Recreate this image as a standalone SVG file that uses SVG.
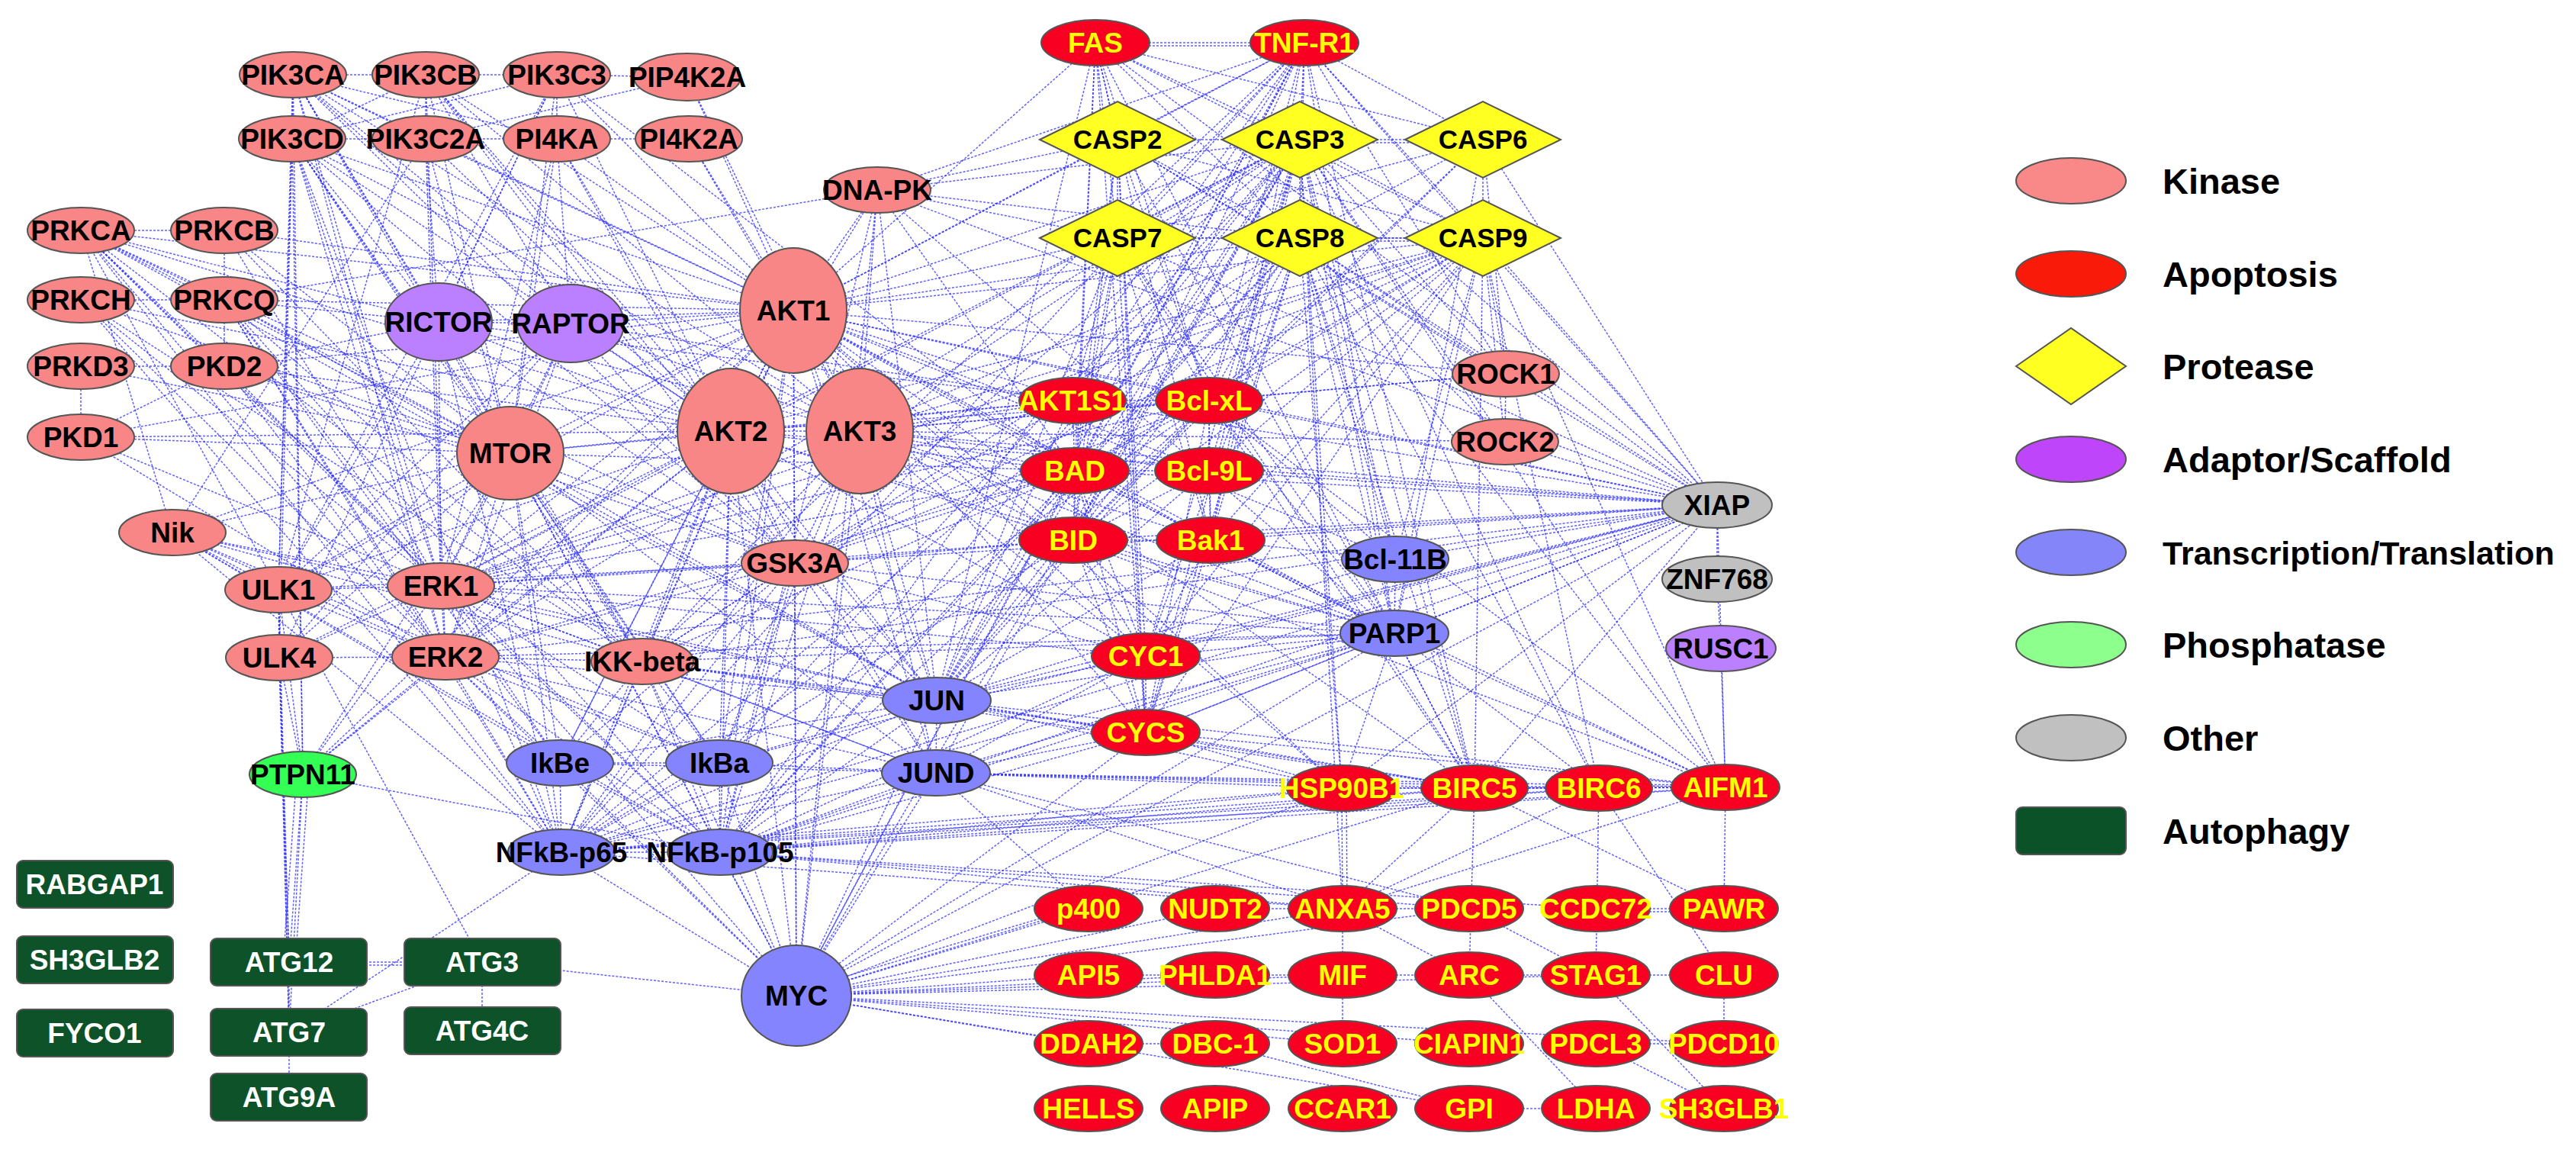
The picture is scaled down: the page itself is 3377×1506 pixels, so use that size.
<svg xmlns="http://www.w3.org/2000/svg" width="3377" height="1506" viewBox="0 0 3377 1506">
<style>
#edges path{fill:none;stroke:#2b2bff;stroke-width:1.5;stroke-dasharray:3 2;stroke-opacity:.75}
ellipse,polygon,rect{stroke:#555;stroke-width:2}
text{font-family:"Liberation Sans",Arial,sans-serif;font-weight:bold;text-anchor:middle;font-size:37px;fill:#000}
text.c{font-size:35px}
.k{fill:#F98686}.ap{fill:#F80022}.pr{fill:#FFFF22}.ad{fill:#BB80FF}.tr{fill:#8484FF}.ph{fill:#33FF55}.ot{fill:#C0C0C0}.au{fill:#0D5229}
text.y{fill:#FFFF00}text.w{fill:#fff}
text.lg{font-size:47px;text-anchor:start}
text.lg2{font-size:43px;text-anchor:start}
</style>
<g id="edges">
<path d="M384 98L558 98"/><path d="M384 98L383 182"/><path d="M384 98L558 182"/><path d="M384 98L730 182"/><path d="M384 98L575 422"/><path d="M384 98L748 424"/><path d="M384 98L669 594"/><path d="M384 98L1040 407"/><path d="M384 98L958 565"/><path d="M384 98L1127 565"/><path d="M384 98L578 768"/><path d="M384 98L584 861"/><path d="M384 98L1042 738"/><path d="M384 98L397 1015"/><path d="M384 98L365 773"/><path d="M384 98L842 867"/>
<path d="M558 98L730 98"/><path d="M558 98L558 182"/><path d="M558 98L383 182"/><path d="M558 98L1040 407"/><path d="M558 98L958 565"/><path d="M558 98L1127 565"/><path d="M558 98L669 594"/><path d="M558 98L748 424"/><path d="M558 98L584 861"/><path d="M558 98L1042 738"/><path d="M558 98L1228 918"/><path d="M558 98L365 773"/>
<path d="M730 98L901 101"/><path d="M730 98L383 182"/><path d="M730 98L730 182"/><path d="M730 98L669 594"/><path d="M730 98L1040 407"/><path d="M730 98L365 773"/><path d="M730 98L575 422"/><path d="M730 98L958 565"/><path d="M730 98L366 862"/><path d="M730 98L1409 617"/>
<path d="M901 101L558 182"/><path d="M901 101L1040 407"/><path d="M901 101L1127 565"/>
<path d="M383 182L558 182"/><path d="M383 182L669 594"/><path d="M383 182L1040 407"/><path d="M383 182L958 565"/><path d="M383 182L1127 565"/><path d="M383 182L397 1015"/><path d="M383 182L575 422"/><path d="M383 182L578 768"/><path d="M383 182L584 861"/><path d="M383 182L842 867"/><path d="M383 182L736 1117"/><path d="M383 182L1042 738"/><path d="M383 182L365 773"/><path d="M383 182L366 862"/><path d="M383 182L943 1000"/>
<path d="M558 182L730 182"/><path d="M558 182L1040 407"/><path d="M558 182L669 594"/><path d="M558 182L958 565"/><path d="M558 182L575 422"/><path d="M558 182L578 768"/><path d="M558 182L226 698"/>
<path d="M730 182L903 182"/><path d="M730 182L1040 407"/><path d="M730 182L669 594"/><path d="M730 182L748 424"/><path d="M730 182L578 768"/><path d="M730 182L958 565"/><path d="M730 182L1042 738"/>
<path d="M903 182L1040 407"/><path d="M903 182L1127 565"/>
<path d="M1150 249L1040 407"/><path d="M1150 249L958 565"/><path d="M1150 249L1127 565"/><path d="M1150 249L294 393"/><path d="M1150 249L1465 183"/><path d="M1150 249L1704 183"/><path d="M1150 249L1465 312"/><path d="M1150 249L1704 312"/><path d="M1150 249L1228 918"/><path d="M1150 249L1044 1305"/><path d="M1150 249L1409 617"/><path d="M1150 249L1828 830"/><path d="M1150 249L2251 662"/><path d="M1150 249L1710 56"/><path d="M1150 249L944 1117"/>
<path d="M106 302L294 302"/><path d="M106 302L294 393"/><path d="M106 302L294 480"/><path d="M106 302L669 594"/><path d="M106 302L1040 407"/><path d="M106 302L578 768"/><path d="M106 302L584 861"/><path d="M106 302L575 422"/><path d="M106 302L842 867"/><path d="M106 302L736 1117"/><path d="M106 302L365 773"/><path d="M106 302L1228 918"/><path d="M106 302L958 565"/><path d="M106 302L1042 738"/><path d="M106 302L944 1117"/><path d="M106 302L226 698"/>
<path d="M294 302L578 768"/><path d="M294 302L669 594"/><path d="M294 302L1040 407"/><path d="M294 302L842 867"/><path d="M294 302L294 480"/>
<path d="M106 393L294 393"/><path d="M106 393L578 768"/><path d="M106 393L584 861"/><path d="M106 393L842 867"/><path d="M106 393L736 1117"/><path d="M106 393L669 594"/><path d="M106 393L958 565"/>
<path d="M294 393L578 768"/><path d="M294 393L842 867"/><path d="M294 393L736 1117"/><path d="M294 393L944 1117"/><path d="M294 393L1040 407"/><path d="M294 393L669 594"/><path d="M294 393L584 861"/><path d="M294 393L1228 918"/><path d="M294 393L575 422"/><path d="M294 393L734 1000"/>
<path d="M106 480L294 480"/><path d="M106 480L106 573"/><path d="M106 480L669 594"/>
<path d="M294 480L106 573"/><path d="M294 480L575 422"/><path d="M294 480L958 565"/><path d="M294 480L578 768"/><path d="M294 480L584 861"/><path d="M294 480L669 594"/><path d="M294 480L1040 407"/><path d="M294 480L1042 738"/>
<path d="M106 573L669 594"/><path d="M106 573L578 768"/><path d="M106 573L1040 407"/><path d="M106 573L958 565"/><path d="M106 573L584 861"/>
<path d="M575 422L748 424"/><path d="M575 422L669 594"/><path d="M575 422L1040 407"/><path d="M575 422L958 565"/><path d="M575 422L1127 565"/><path d="M575 422L578 768"/><path d="M575 422L1042 738"/><path d="M575 422L365 773"/><path d="M575 422L736 1117"/><path d="M575 422L1406 525"/>
<path d="M748 424L669 594"/><path d="M748 424L1040 407"/><path d="M748 424L958 565"/><path d="M748 424L1127 565"/><path d="M748 424L365 773"/><path d="M748 424L578 768"/><path d="M748 424L584 861"/><path d="M748 424L1406 525"/><path d="M748 424L1042 738"/><path d="M748 424L366 862"/>
<path d="M1040 407L958 565"/><path d="M1040 407L1127 565"/><path d="M1040 407L669 594"/><path d="M1040 407L1042 738"/><path d="M1040 407L1409 617"/><path d="M1040 407L1406 525"/><path d="M1040 407L1585 525"/><path d="M1040 407L1585 617"/><path d="M1040 407L1944 312"/><path d="M1040 407L1704 183"/><path d="M1040 407L1465 312"/><path d="M1040 407L1704 312"/><path d="M1040 407L1465 183"/><path d="M1040 407L1710 56"/><path d="M1040 407L1436 56"/><path d="M1040 407L2251 662"/><path d="M1040 407L1974 490"/><path d="M1040 407L1044 1305"/><path d="M1040 407L1228 918"/><path d="M1040 407L1227 1013"/><path d="M1040 407L842 867"/><path d="M1040 407L736 1117"/><path d="M1040 407L944 1117"/><path d="M1040 407L943 1000"/><path d="M1040 407L734 1000"/><path d="M1040 407L578 768"/><path d="M1040 407L584 861"/><path d="M1040 407L365 773"/><path d="M1040 407L1828 830"/><path d="M1040 407L1502 860"/><path d="M1040 407L1407 708"/><path d="M1040 407L1587 708"/><path d="M1040 407L1759 1033"/><path d="M1040 407L1933 1033"/><path d="M1040 407L226 698"/><path d="M1040 407L397 1015"/><path d="M1040 407L1502 960"/><path d="M1040 407L1829 733"/>
<path d="M958 565L1127 565"/><path d="M958 565L669 594"/><path d="M958 565L1042 738"/><path d="M958 565L1409 617"/><path d="M958 565L1406 525"/><path d="M958 565L842 867"/><path d="M958 565L736 1117"/><path d="M958 565L944 1117"/><path d="M958 565L578 768"/><path d="M958 565L584 861"/><path d="M958 565L1228 918"/><path d="M958 565L1227 1013"/><path d="M958 565L1044 1305"/><path d="M958 565L1944 312"/><path d="M958 565L1704 183"/><path d="M958 565L2251 662"/><path d="M958 565L365 773"/><path d="M958 565L734 1000"/><path d="M958 565L943 1000"/><path d="M958 565L1585 525"/><path d="M958 565L1828 830"/><path d="M958 565L1407 708"/><path d="M958 565L1502 860"/><path d="M958 565L366 862"/>
<path d="M1127 565L1042 738"/><path d="M1127 565L1409 617"/><path d="M1127 565L1406 525"/><path d="M1127 565L1585 525"/><path d="M1127 565L1044 1305"/><path d="M1127 565L1228 918"/><path d="M1127 565L1227 1013"/><path d="M1127 565L944 1117"/><path d="M1127 565L736 1117"/><path d="M1127 565L1944 312"/><path d="M1127 565L1704 183"/><path d="M1127 565L1704 312"/><path d="M1127 565L2251 662"/><path d="M1127 565L1973 579"/><path d="M1127 565L1974 490"/><path d="M1127 565L1502 860"/><path d="M1127 565L1407 708"/><path d="M1127 565L943 1000"/><path d="M1127 565L1828 830"/><path d="M1127 565L1587 708"/><path d="M1127 565L1585 617"/><path d="M1127 565L842 867"/><path d="M1127 565L578 768"/>
<path d="M669 594L365 773"/><path d="M669 594L366 862"/><path d="M669 594L578 768"/><path d="M669 594L584 861"/><path d="M669 594L1406 525"/><path d="M669 594L226 698"/><path d="M669 594L1042 738"/><path d="M669 594L842 867"/><path d="M669 594L1228 918"/><path d="M669 594L1044 1305"/><path d="M669 594L734 1000"/><path d="M669 594L943 1000"/><path d="M669 594L736 1117"/><path d="M669 594L944 1117"/><path d="M669 594L397 1015"/><path d="M669 594L1409 617"/><path d="M669 594L1227 1013"/>
<path d="M226 698L842 867"/><path d="M226 698L578 768"/><path d="M226 698L365 773"/><path d="M226 698L736 1117"/><path d="M226 698L944 1117"/><path d="M226 698L943 1000"/><path d="M226 698L1228 918"/><path d="M226 698L584 861"/><path d="M226 698L734 1000"/>
<path d="M365 773L366 862"/><path d="M365 773L578 768"/><path d="M365 773L632 1261"/><path d="M365 773L397 1015"/><path d="M365 773L379 1261"/><path d="M365 773L379 1353"/><path d="M365 773L584 861"/><path d="M365 773L1042 738"/>
<path d="M366 862L397 1015"/><path d="M366 862L584 861"/><path d="M366 862L379 1261"/><path d="M366 862L379 1353"/>
<path d="M578 768L584 861"/><path d="M578 768L842 867"/><path d="M578 768L1228 918"/><path d="M578 768L1227 1013"/><path d="M578 768L1044 1305"/><path d="M578 768L1042 738"/><path d="M578 768L736 1117"/><path d="M578 768L944 1117"/><path d="M578 768L943 1000"/><path d="M578 768L734 1000"/><path d="M578 768L1409 617"/><path d="M578 768L1704 183"/><path d="M578 768L1944 312"/><path d="M578 768L1828 830"/><path d="M578 768L1406 525"/><path d="M578 768L1585 525"/><path d="M578 768L1502 860"/><path d="M578 768L1407 708"/><path d="M578 768L366 862"/><path d="M578 768L397 1015"/>
<path d="M584 861L842 867"/><path d="M584 861L1228 918"/><path d="M584 861L1044 1305"/><path d="M584 861L734 1000"/><path d="M584 861L943 1000"/><path d="M584 861L736 1117"/><path d="M584 861L944 1117"/><path d="M584 861L1042 738"/><path d="M584 861L1409 617"/><path d="M584 861L1227 1013"/><path d="M584 861L397 1015"/><path d="M584 861L1704 183"/><path d="M584 861L1828 830"/><path d="M584 861L2251 662"/>
<path d="M1042 738L1228 918"/><path d="M1042 738L1044 1305"/><path d="M1042 738L1227 1013"/><path d="M1042 738L842 867"/><path d="M1042 738L736 1117"/><path d="M1042 738L944 1117"/><path d="M1042 738L1409 617"/><path d="M1042 738L1585 525"/><path d="M1042 738L1704 183"/><path d="M1042 738L2251 662"/><path d="M1042 738L1406 525"/><path d="M1042 738L1502 860"/><path d="M1042 738L943 1000"/><path d="M1042 738L734 1000"/><path d="M1042 738L1944 312"/><path d="M1042 738L1407 708"/><path d="M1042 738L1828 830"/>
<path d="M842 867L734 1000"/><path d="M842 867L943 1000"/><path d="M842 867L736 1117"/><path d="M842 867L944 1117"/><path d="M842 867L1228 918"/><path d="M842 867L1044 1305"/><path d="M842 867L1227 1013"/><path d="M842 867L1409 617"/><path d="M842 867L2251 662"/><path d="M842 867L1933 1033"/><path d="M842 867L1704 312"/><path d="M842 867L1828 830"/><path d="M842 867L1502 960"/>
<path d="M397 1015L379 1261"/><path d="M389 1015L371 1261"/><path d="M405 1015L387 1261"/><path d="M397 1015L379 1353"/><path d="M397 1015L944 1117"/><path d="M397 1015L958 565"/>
<path d="M734 1000L736 1117"/><path d="M734 1000L944 1117"/><path d="M734 1000L943 1000"/><path d="M734 1000L1044 1305"/><path d="M734 1000L1228 918"/><path d="M734 1000L1227 1013"/>
<path d="M943 1000L736 1117"/><path d="M943 1000L944 1117"/><path d="M943 1000L1044 1305"/><path d="M943 1000L1228 918"/><path d="M943 1000L1227 1013"/><path d="M943 1000L1704 183"/><path d="M943 1000L2251 662"/>
<path d="M736 1117L944 1117"/><path d="M736 1117L1044 1305"/><path d="M736 1117L1228 918"/><path d="M736 1117L1227 1013"/><path d="M736 1117L379 1353"/><path d="M736 1117L1933 1033"/><path d="M736 1117L2251 662"/><path d="M736 1117L1407 708"/><path d="M736 1117L1704 312"/><path d="M736 1117L1585 525"/><path d="M736 1117L1828 830"/><path d="M736 1117L2096 1033"/><path d="M736 1117L2262 1032"/><path d="M736 1117L1760 1191"/><path d="M736 1117L1759 1033"/>
<path d="M944 1117L1044 1305"/><path d="M944 1117L1228 918"/><path d="M944 1117L1227 1013"/><path d="M944 1117L1933 1033"/><path d="M944 1117L2251 662"/><path d="M944 1117L1585 525"/><path d="M944 1117L1704 312"/><path d="M944 1117L1828 830"/><path d="M944 1117L1760 1191"/><path d="M944 1117L2096 1033"/><path d="M944 1117L1759 1033"/><path d="M944 1117L1502 960"/><path d="M944 1117L1926 1191"/><path d="M944 1117L2092 1191"/><path d="M944 1117L2262 1032"/><path d="M944 1117L1409 617"/><path d="M944 1117L1502 860"/><path d="M944 1117L1704 183"/>
<path d="M1044 1305L1228 918"/><path d="M1044 1305L1227 1013"/><path d="M1044 1305L1427 1191"/><path d="M1044 1299L1427 1185"/><path d="M1044 1305L1593 1191"/><path d="M1044 1305L1760 1191"/><path d="M1044 1305L1760 1278"/><path d="M1044 1305L2092 1278"/><path d="M1044 1305L1760 1368"/><path d="M1044 1305L1926 1453"/><path d="M1044 1305L2260 1368"/><path d="M1044 1305L1427 1368"/><path d="M1044 1305L1926 1368"/><path d="M1044 1305L632 1261"/><path d="M1044 1305L1409 617"/><path d="M1044 1305L1704 183"/><path d="M1044 1305L2251 662"/><path d="M1044 1305L1933 1033"/><path d="M1044 1305L1759 1033"/><path d="M1044 1305L1828 830"/><path d="M1044 1305L1502 960"/><path d="M1044 1305L1926 1191"/><path d="M1044 1305L1427 1278"/><path d="M1044 1305L1593 1278"/>
<path d="M1228 918L1227 1013"/><path d="M1228 918L1502 860"/><path d="M1228 918L1502 960"/><path d="M1228 918L1828 830"/><path d="M1228 918L1407 708"/><path d="M1228 918L1409 617"/><path d="M1228 918L1587 708"/><path d="M1228 918L1585 525"/><path d="M1228 918L1704 183"/><path d="M1228 918L1704 312"/><path d="M1228 918L2251 662"/><path d="M1228 918L1759 1033"/><path d="M1228 918L1933 1033"/><path d="M1228 918L2262 1032"/><path d="M1228 918L1944 312"/><path d="M1228 918L1829 733"/><path d="M1228 918L1465 312"/><path d="M1228 918L1406 525"/>
<path d="M1227 1013L1502 860"/><path d="M1227 1013L1502 960"/><path d="M1227 1013L1759 1033"/><path d="M1227 1013L1760 1191"/><path d="M1227 1013L1933 1033"/><path d="M1227 1013L1926 1191"/><path d="M1227 1013L1704 183"/><path d="M1227 1013L1828 830"/><path d="M1227 1013L1427 1191"/><path d="M1227 1013L2096 1033"/><path d="M1227 1013L2262 1032"/>
<path d="M1436 56L1710 56"/><path d="M1436 60L1710 60"/><path d="M1436 56L1465 183"/><path d="M1436 56L1704 183"/><path d="M1436 56L1465 312"/><path d="M1436 56L1704 312"/><path d="M1436 56L1944 312"/><path d="M1436 56L1407 708"/><path d="M1436 56L1585 525"/><path d="M1436 56L1409 617"/><path d="M1436 56L2251 662"/><path d="M1436 56L1828 830"/><path d="M1436 56L1228 918"/><path d="M1436 56L1587 708"/><path d="M1436 56L1944 183"/><path d="M1436 56L1502 960"/>
<path d="M1710 56L1465 183"/><path d="M1710 56L1704 183"/><path d="M1710 56L1465 312"/><path d="M1710 56L1704 312"/><path d="M1710 56L1944 312"/><path d="M1710 56L1407 708"/><path d="M1710 56L1409 617"/><path d="M1710 56L2251 662"/><path d="M1710 56L1828 830"/><path d="M1710 56L736 1117"/><path d="M1710 56L944 1117"/><path d="M1710 56L842 867"/><path d="M1710 56L1974 490"/><path d="M1710 56L1228 918"/><path d="M1710 56L1933 1033"/><path d="M1710 56L1587 708"/><path d="M1710 56L1585 525"/><path d="M1710 56L1406 525"/><path d="M1710 56L1944 183"/><path d="M1710 56L1044 1305"/>
<path d="M1465 183L1704 183"/><path d="M1465 183L1465 312"/><path d="M1465 183L1704 312"/><path d="M1465 183L1944 312"/><path d="M1465 183L1407 708"/><path d="M1465 183L1585 525"/><path d="M1465 183L1409 617"/><path d="M1465 183L2251 662"/><path d="M1465 183L1828 830"/><path d="M1465 183L1974 490"/><path d="M1465 183L1502 860"/><path d="M1465 183L1502 960"/>
<path d="M1704 183L1944 183"/><path d="M1704 187L1944 187"/><path d="M1704 183L1465 312"/><path d="M1704 183L1704 312"/><path d="M1704 183L1944 312"/><path d="M1704 183L2251 662"/><path d="M1704 183L1828 830"/><path d="M1704 183L1407 708"/><path d="M1704 183L1409 617"/><path d="M1704 183L1585 525"/><path d="M1704 183L1587 708"/><path d="M1704 183L1974 490"/><path d="M1704 183L1973 579"/><path d="M1704 183L1502 960"/><path d="M1704 183L1502 860"/><path d="M1704 183L1933 1033"/><path d="M1704 183L2096 1033"/><path d="M1704 183L1759 1033"/><path d="M1704 183L2262 1032"/><path d="M1704 183L1760 1191"/><path d="M1704 183L1829 733"/><path d="M1704 183L1406 525"/><path d="M1704 183L1585 617"/>
<path d="M1944 183L1704 312"/><path d="M1944 183L1944 312"/><path d="M1944 183L1465 312"/><path d="M1944 183L2251 662"/><path d="M1944 183L1828 830"/><path d="M1944 183L1974 490"/><path d="M1944 183L1585 525"/><path d="M1944 183L1407 708"/>
<path d="M1465 312L1704 312"/><path d="M1465 312L1944 312"/><path d="M1465 312L2251 662"/><path d="M1465 312L1828 830"/><path d="M1465 312L1407 708"/><path d="M1465 312L1409 617"/><path d="M1465 312L1585 525"/><path d="M1465 312L1502 960"/><path d="M1465 312L1933 1033"/><path d="M1465 312L1406 525"/><path d="M1465 312L1587 708"/>
<path d="M1704 312L1944 312"/><path d="M1704 316L1944 316"/><path d="M1704 312L2251 662"/><path d="M1704 312L1828 830"/><path d="M1704 312L1407 708"/><path d="M1704 312L1585 525"/><path d="M1704 312L1587 708"/><path d="M1704 312L1409 617"/><path d="M1704 312L1502 960"/><path d="M1704 312L1502 860"/><path d="M1704 312L1974 490"/><path d="M1704 312L1973 579"/><path d="M1704 312L1933 1033"/><path d="M1704 312L2096 1033"/><path d="M1704 312L2262 1032"/><path d="M1704 312L1759 1033"/><path d="M1704 312L1829 733"/>
<path d="M1944 312L2251 662"/><path d="M1944 312L1828 830"/><path d="M1944 312L1407 708"/><path d="M1944 312L1409 617"/><path d="M1944 312L1585 525"/><path d="M1944 312L1502 960"/><path d="M1944 312L1974 490"/><path d="M1944 312L1973 579"/><path d="M1944 312L1933 1033"/><path d="M1944 312L2096 1033"/><path d="M1944 312L2262 1032"/><path d="M1944 312L1829 733"/><path d="M1944 312L1406 525"/><path d="M1944 312L1502 860"/><path d="M1944 312L1587 708"/>
<path d="M2251 662L2251 759"/><path d="M2251 662L1407 708"/><path d="M2251 662L1587 708"/><path d="M2251 662L1585 525"/><path d="M2251 662L1409 617"/><path d="M2251 662L1828 830"/><path d="M2251 662L1829 733"/><path d="M2251 662L1502 860"/><path d="M2251 662L1502 960"/><path d="M2251 662L1933 1033"/><path d="M2251 662L1759 1033"/><path d="M2251 662L2262 1032"/><path d="M2251 662L1973 579"/><path d="M2251 662L1406 525"/><path d="M2251 662L1585 617"/>
<path d="M2251 759L2256 850"/><path d="M2256 850L2262 1032"/>
<path d="M2262 1032L2096 1033"/><path d="M2262 1028L2096 1029"/><path d="M2262 1032L1933 1033"/><path d="M2262 1032L2260 1191"/><path d="M2262 1032L1828 830"/><path d="M2262 1032L1760 1191"/><path d="M2262 1032L1759 1033"/><path d="M2262 1032L1502 960"/><path d="M2262 1032L1407 708"/><path d="M2262 1032L1585 525"/><path d="M2262 1032L1587 708"/>
<path d="M2096 1033L1933 1033"/><path d="M2096 1033L2260 1278"/><path d="M2096 1033L1760 1191"/><path d="M2096 1033L2092 1278"/>
<path d="M1933 1033L1759 1033"/><path d="M1933 1033L1760 1191"/><path d="M1933 1033L1828 830"/><path d="M1933 1033L1502 960"/><path d="M1933 1033L2260 1191"/><path d="M1933 1033L1926 1278"/>
<path d="M1759 1033L1760 1191"/><path d="M1765 1033L1766 1191"/><path d="M1759 1033L1828 830"/><path d="M1759 1033L1407 708"/>
<path d="M1760 1191L1760 1278"/><path d="M1760 1191L1926 1191"/><path d="M1760 1191L1926 1278"/><path d="M1760 1191L1593 1191"/><path d="M1926 1191L2092 1278"/><path d="M2092 1191L2260 1191"/><path d="M2092 1195L2260 1195"/><path d="M1760 1278L1760 1368"/><path d="M1760 1278L1926 1278"/><path d="M1760 1278L1593 1278"/><path d="M1926 1278L2092 1278"/><path d="M1926 1278L2092 1453"/><path d="M2092 1278L2260 1278"/><path d="M2092 1278L2260 1453"/><path d="M2092 1368L2260 1368"/><path d="M2092 1368L2260 1453"/><path d="M2260 1278L2260 1368"/><path d="M1427 1278L1593 1278"/><path d="M1427 1368L1593 1368"/><path d="M1593 1368L1926 1453"/><path d="M1926 1453L2092 1453"/>
<path d="M1406 525L1585 525"/><path d="M1406 525L1409 617"/>
<path d="M1585 525L1409 617"/><path d="M1585 525L1585 617"/><path d="M1585 525L1407 708"/><path d="M1585 525L1587 708"/><path d="M1585 525L1828 830"/><path d="M1585 525L1502 960"/><path d="M1585 525L1829 733"/><path d="M1585 525L1974 490"/><path d="M1585 525L1933 1033"/>
<path d="M1409 617L1585 617"/><path d="M1409 617L1407 708"/><path d="M1409 617L1587 708"/><path d="M1409 617L1502 960"/><path d="M1409 617L1502 860"/><path d="M1409 617L1828 830"/>
<path d="M1585 617L1587 708"/><path d="M1585 617L1407 708"/>
<path d="M1407 708L1587 708"/><path d="M1407 708L1502 960"/><path d="M1407 708L1502 860"/><path d="M1407 708L1828 830"/>
<path d="M1587 708L1502 960"/><path d="M1587 708L1502 860"/><path d="M1587 708L1828 830"/><path d="M1587 708L1829 733"/>
<path d="M1502 860L1502 960"/><path d="M1502 860L1828 830"/><path d="M1502 960L1828 830"/><path d="M1502 960L1759 1033"/>
<path d="M1828 830L1829 733"/><path d="M1828 830L1933 1033"/><path d="M1828 830L2096 1033"/><path d="M1974 490L1973 579"/>
<path d="M379 1261L632 1261"/><path d="M379 1265L632 1265"/><path d="M379 1261L379 1353"/><path d="M632 1261L632 1351"/><path d="M632 1261L379 1353"/><path d="M379 1353L379 1438"/>
</g>
<g id="PIK3CA"><ellipse class="k" cx="384" cy="98" rx="70" ry="30"/><text x="384" y="111">PIK3CA</text></g>
<g id="PIK3CB"><ellipse class="k" cx="558" cy="98" rx="70" ry="30"/><text x="558" y="111">PIK3CB</text></g>
<g id="PIK3C3"><ellipse class="k" cx="730" cy="98" rx="70" ry="30"/><text x="730" y="111">PIK3C3</text></g>
<g id="PIP4K2A"><ellipse class="k" cx="901" cy="101" rx="70" ry="31"/><text x="901" y="114">PIP4K2A</text></g>
<g id="PIK3CD"><ellipse class="k" cx="383" cy="182" rx="70" ry="30"/><text x="383" y="195">PIK3CD</text></g>
<g id="PIK3C2A"><ellipse class="k" cx="558" cy="182" rx="70" ry="30"/><text x="558" y="195">PIK3C2A</text></g>
<g id="PI4KA"><ellipse class="k" cx="730" cy="182" rx="70" ry="30"/><text x="730" y="195">PI4KA</text></g>
<g id="PI4K2A"><ellipse class="k" cx="903" cy="182" rx="70" ry="30"/><text x="903" y="195">PI4K2A</text></g>
<g id="DNA-PK"><ellipse class="k" cx="1150" cy="249" rx="70" ry="30"/><text x="1150" y="262">DNA-PK</text></g>
<g id="PRKCA"><ellipse class="k" cx="106" cy="302" rx="70" ry="30"/><text x="106" y="315">PRKCA</text></g>
<g id="PRKCB"><ellipse class="k" cx="294" cy="302" rx="70" ry="30"/><text x="294" y="315">PRKCB</text></g>
<g id="PRKCH"><ellipse class="k" cx="106" cy="393" rx="70" ry="30"/><text x="106" y="406">PRKCH</text></g>
<g id="PRKCQ"><ellipse class="k" cx="294" cy="393" rx="70" ry="30"/><text x="294" y="406">PRKCQ</text></g>
<g id="PRKD3"><ellipse class="k" cx="106" cy="480" rx="70" ry="30"/><text x="106" y="493">PRKD3</text></g>
<g id="PKD2"><ellipse class="k" cx="294" cy="480" rx="70" ry="30"/><text x="294" y="493">PKD2</text></g>
<g id="PKD1"><ellipse class="k" cx="106" cy="573" rx="70" ry="30"/><text x="106" y="586">PKD1</text></g>
<g id="RICTOR"><ellipse class="ad" cx="575" cy="422" rx="70" ry="51"/><text x="575" y="435">RICTOR</text></g>
<g id="RAPTOR"><ellipse class="ad" cx="748" cy="424" rx="70" ry="51"/><text x="748" y="437">RAPTOR</text></g>
<g id="AKT1"><ellipse class="k" cx="1040" cy="407" rx="70" ry="82"/><text x="1040" y="420">AKT1</text></g>
<g id="AKT2"><ellipse class="k" cx="958" cy="565" rx="70" ry="82"/><text x="958" y="578">AKT2</text></g>
<g id="AKT3"><ellipse class="k" cx="1127" cy="565" rx="70" ry="82"/><text x="1127" y="578">AKT3</text></g>
<g id="MTOR"><ellipse class="k" cx="669" cy="594" rx="70" ry="61"/><text x="669" y="607">MTOR</text></g>
<g id="Nik"><ellipse class="k" cx="226" cy="698" rx="70" ry="30"/><text x="226" y="711">Nik</text></g>
<g id="ULK1"><ellipse class="k" cx="365" cy="773" rx="70" ry="30"/><text x="365" y="786">ULK1</text></g>
<g id="ERK1"><ellipse class="k" cx="578" cy="768" rx="70" ry="30"/><text x="578" y="781">ERK1</text></g>
<g id="GSK3A"><ellipse class="k" cx="1042" cy="738" rx="70" ry="30"/><text x="1042" y="751">GSK3A</text></g>
<g id="ULK4"><ellipse class="k" cx="366" cy="862" rx="70" ry="30"/><text x="366" y="875">ULK4</text></g>
<g id="ERK2"><ellipse class="k" cx="584" cy="861" rx="70" ry="30"/><text x="584" y="874">ERK2</text></g>
<g id="IKK-beta"><ellipse class="k" cx="842" cy="867" rx="67" ry="30"/><text x="842" y="880">IKK-beta</text></g>
<g id="ROCK1"><ellipse class="k" cx="1974" cy="490" rx="70" ry="30"/><text x="1974" y="503">ROCK1</text></g>
<g id="ROCK2"><ellipse class="k" cx="1973" cy="579" rx="70" ry="30"/><text x="1973" y="592">ROCK2</text></g>
<g id="PTPN11"><ellipse class="ph" cx="397" cy="1015" rx="70" ry="30"/><text x="397" y="1028">PTPN11</text></g>
<g id="IkBe"><ellipse class="tr" cx="734" cy="1000" rx="70" ry="30"/><text x="734" y="1013">IkBe</text></g>
<g id="IkBa"><ellipse class="tr" cx="943" cy="1000" rx="70" ry="30"/><text x="943" y="1013">IkBa</text></g>
<g id="JUN"><ellipse class="tr" cx="1228" cy="918" rx="71" ry="30"/><text x="1228" y="931">JUN</text></g>
<g id="JUND"><ellipse class="tr" cx="1227" cy="1013" rx="71" ry="30"/><text x="1227" y="1026">JUND</text></g>
<g id="NFkB-p65"><ellipse class="tr" cx="736" cy="1117" rx="70" ry="30"/><text x="736" y="1130">NFkB-p65</text></g>
<g id="NFkB-p105"><ellipse class="tr" cx="944" cy="1117" rx="69" ry="30"/><text x="944" y="1130">NFkB-p105</text></g>
<g id="MYC"><ellipse class="tr" cx="1044" cy="1305" rx="72" ry="66"/><text x="1044" y="1318">MYC</text></g>
<g id="Bcl-11B"><ellipse class="tr" cx="1829" cy="733" rx="70" ry="30"/><text x="1829" y="746">Bcl-11B</text></g>
<g id="PARP1"><ellipse class="tr" cx="1828" cy="830" rx="71" ry="30"/><text x="1828" y="843">PARP1</text></g>
<g id="XIAP"><ellipse class="ot" cx="2251" cy="662" rx="72" ry="30"/><text x="2251" y="675">XIAP</text></g>
<g id="ZNF768"><ellipse class="ot" cx="2251" cy="759" rx="72" ry="30"/><text x="2251" y="772">ZNF768</text></g>
<g id="RUSC1"><ellipse class="ad" cx="2256" cy="850" rx="72" ry="30"/><text x="2256" y="863">RUSC1</text></g>
<g id="CASP2"><polygon class="pr" points="1363,183 1465,133 1567,183 1465,233"/><text class="c" x="1465" y="195">CASP2</text></g>
<g id="CASP3"><polygon class="pr" points="1602,183 1704,133 1806,183 1704,233"/><text class="c" x="1704" y="195">CASP3</text></g>
<g id="CASP6"><polygon class="pr" points="1842,183 1944,133 2046,183 1944,233"/><text class="c" x="1944" y="195">CASP6</text></g>
<g id="CASP7"><polygon class="pr" points="1363,312 1465,262 1567,312 1465,362"/><text class="c" x="1465" y="324">CASP7</text></g>
<g id="CASP8"><polygon class="pr" points="1602,312 1704,262 1806,312 1704,362"/><text class="c" x="1704" y="324">CASP8</text></g>
<g id="CASP9"><polygon class="pr" points="1842,312 1944,262 2046,312 1944,362"/><text class="c" x="1944" y="324">CASP9</text></g>
<g id="FAS"><ellipse class="ap" cx="1436" cy="56" rx="71" ry="30"/><text class="y" x="1436" y="69">FAS</text></g>
<g id="TNF-R1"><ellipse class="ap" cx="1710" cy="56" rx="71" ry="30"/><text class="y" x="1710" y="69">TNF-R1</text></g>
<g id="AKT1S1"><ellipse class="ap" cx="1406" cy="525" rx="70" ry="30"/><text class="y" x="1406" y="538">AKT1S1</text></g>
<g id="Bcl-xL"><ellipse class="ap" cx="1585" cy="525" rx="70" ry="30"/><text class="y" x="1585" y="538">Bcl-xL</text></g>
<g id="BAD"><ellipse class="ap" cx="1409" cy="617" rx="71" ry="30"/><text class="y" x="1409" y="630">BAD</text></g>
<g id="Bcl-9L"><ellipse class="ap" cx="1585" cy="617" rx="71" ry="30"/><text class="y" x="1585" y="630">Bcl-9L</text></g>
<g id="BID"><ellipse class="ap" cx="1407" cy="708" rx="71" ry="30"/><text class="y" x="1407" y="721">BID</text></g>
<g id="Bak1"><ellipse class="ap" cx="1587" cy="708" rx="71" ry="30"/><text class="y" x="1587" y="721">Bak1</text></g>
<g id="CYC1"><ellipse class="ap" cx="1502" cy="860" rx="71" ry="30"/><text class="y" x="1502" y="873">CYC1</text></g>
<g id="CYCS"><ellipse class="ap" cx="1502" cy="960" rx="71" ry="30"/><text class="y" x="1502" y="973">CYCS</text></g>
<g id="HSP90B1"><ellipse class="ap" cx="1759" cy="1033" rx="72" ry="30"/><text class="y" x="1759" y="1046">HSP90B1</text></g>
<g id="BIRC5"><ellipse class="ap" cx="1933" cy="1033" rx="70" ry="30"/><text class="y" x="1933" y="1046">BIRC5</text></g>
<g id="BIRC6"><ellipse class="ap" cx="2096" cy="1033" rx="70" ry="30"/><text class="y" x="2096" y="1046">BIRC6</text></g>
<g id="AIFM1"><ellipse class="ap" cx="2262" cy="1032" rx="71" ry="30"/><text class="y" x="2262" y="1045">AIFM1</text></g>
<g id="p400"><ellipse class="ap" cx="1427" cy="1191" rx="71" ry="30"/><text class="y" x="1427" y="1204">p400</text></g>
<g id="NUDT2"><ellipse class="ap" cx="1593" cy="1191" rx="71" ry="30"/><text class="y" x="1593" y="1204">NUDT2</text></g>
<g id="ANXA5"><ellipse class="ap" cx="1760" cy="1191" rx="71" ry="30"/><text class="y" x="1760" y="1204">ANXA5</text></g>
<g id="PDCD5"><ellipse class="ap" cx="1926" cy="1191" rx="71" ry="30"/><text class="y" x="1926" y="1204">PDCD5</text></g>
<g id="CCDC72"><ellipse class="ap" cx="2092" cy="1191" rx="71" ry="30"/><text class="y" x="2092" y="1204">CCDC72</text></g>
<g id="PAWR"><ellipse class="ap" cx="2260" cy="1191" rx="71" ry="30"/><text class="y" x="2260" y="1204">PAWR</text></g>
<g id="API5"><ellipse class="ap" cx="1427" cy="1278" rx="71" ry="30"/><text class="y" x="1427" y="1291">API5</text></g>
<g id="PHLDA1"><ellipse class="ap" cx="1593" cy="1278" rx="71" ry="30"/><text class="y" x="1593" y="1291">PHLDA1</text></g>
<g id="MIF"><ellipse class="ap" cx="1760" cy="1278" rx="71" ry="30"/><text class="y" x="1760" y="1291">MIF</text></g>
<g id="ARC"><ellipse class="ap" cx="1926" cy="1278" rx="71" ry="30"/><text class="y" x="1926" y="1291">ARC</text></g>
<g id="STAG1"><ellipse class="ap" cx="2092" cy="1278" rx="71" ry="30"/><text class="y" x="2092" y="1291">STAG1</text></g>
<g id="CLU"><ellipse class="ap" cx="2260" cy="1278" rx="71" ry="30"/><text class="y" x="2260" y="1291">CLU</text></g>
<g id="DDAH2"><ellipse class="ap" cx="1427" cy="1368" rx="71" ry="30"/><text class="y" x="1427" y="1381">DDAH2</text></g>
<g id="DBC-1"><ellipse class="ap" cx="1593" cy="1368" rx="71" ry="30"/><text class="y" x="1593" y="1381">DBC-1</text></g>
<g id="SOD1"><ellipse class="ap" cx="1760" cy="1368" rx="71" ry="30"/><text class="y" x="1760" y="1381">SOD1</text></g>
<g id="CIAPIN1"><ellipse class="ap" cx="1926" cy="1368" rx="71" ry="30"/><text class="y" x="1926" y="1381">CIAPIN1</text></g>
<g id="PDCL3"><ellipse class="ap" cx="2092" cy="1368" rx="71" ry="30"/><text class="y" x="2092" y="1381">PDCL3</text></g>
<g id="PDCD10"><ellipse class="ap" cx="2260" cy="1368" rx="71" ry="30"/><text class="y" x="2260" y="1381">PDCD10</text></g>
<g id="HELLS"><ellipse class="ap" cx="1427" cy="1453" rx="71" ry="30"/><text class="y" x="1427" y="1466">HELLS</text></g>
<g id="APIP"><ellipse class="ap" cx="1593" cy="1453" rx="71" ry="30"/><text class="y" x="1593" y="1466">APIP</text></g>
<g id="CCAR1"><ellipse class="ap" cx="1760" cy="1453" rx="71" ry="30"/><text class="y" x="1760" y="1466">CCAR1</text></g>
<g id="GPI"><ellipse class="ap" cx="1926" cy="1453" rx="71" ry="30"/><text class="y" x="1926" y="1466">GPI</text></g>
<g id="LDHA"><ellipse class="ap" cx="2092" cy="1453" rx="71" ry="30"/><text class="y" x="2092" y="1466">LDHA</text></g>
<g id="SH3GLB1"><ellipse class="ap" cx="2260" cy="1453" rx="71" ry="30"/><text class="y" x="2260" y="1466">SH3GLB1</text></g>
<g id="RABGAP1"><rect class="au" x="22" y="1128" width="205" height="62" rx="8"/><text class="w" x="124" y="1172">RABGAP1</text></g>
<g id="SH3GLB2"><rect class="au" x="22" y="1227" width="205" height="62" rx="8"/><text class="w" x="124" y="1271">SH3GLB2</text></g>
<g id="FYCO1"><rect class="au" x="22" y="1323" width="205" height="62" rx="8"/><text class="w" x="124" y="1367">FYCO1</text></g>
<g id="ATG12"><rect class="au" x="276" y="1230" width="205" height="62" rx="8"/><text class="w" x="379" y="1274">ATG12</text></g>
<g id="ATG3"><rect class="au" x="530" y="1230" width="205" height="62" rx="8"/><text class="w" x="632" y="1274">ATG3</text></g>
<g id="ATG7"><rect class="au" x="276" y="1322" width="205" height="62" rx="8"/><text class="w" x="379" y="1366">ATG7</text></g>
<g id="ATG4C"><rect class="au" x="530" y="1320" width="205" height="62" rx="8"/><text class="w" x="632" y="1364">ATG4C</text></g>
<g id="ATG9A"><rect class="au" x="276" y="1407" width="205" height="62" rx="8"/><text class="w" x="379" y="1451">ATG9A</text></g>
<g id="legend">
<ellipse cx="2715" cy="237" rx="72" ry="30" fill="#F98888"/><text class="lg" x="2835" y="254">Kinase</text>
<ellipse cx="2715" cy="359" rx="72" ry="30" fill="#FA1A0A"/><text class="lg" x="2835" y="376">Apoptosis</text>
<polygon points="2643,480 2715,430 2787,480 2715,530" fill="#FFFF22"/><text class="lg" x="2835" y="497">Protease</text>
<ellipse cx="2715" cy="602" rx="72" ry="30" fill="#BE45FA"/><text class="lg" x="2835" y="619">Adaptor/Scaffold</text>
<ellipse cx="2715" cy="724" rx="72" ry="30" fill="#8585FA"/><text class="lg2" x="2835" y="740">Transcription/Translation</text>
<ellipse cx="2715" cy="845" rx="72" ry="30" fill="#8CFF8C"/><text class="lg" x="2835" y="862">Phosphatase</text>
<ellipse cx="2715" cy="967" rx="72" ry="30" fill="#C0C0C0"/><text class="lg" x="2835" y="984">Other</text>
<rect x="2643" y="1058" width="144" height="62" rx="8" fill="#0C5229"/><text class="lg" x="2835" y="1106">Autophagy</text>
</g>
</svg>
